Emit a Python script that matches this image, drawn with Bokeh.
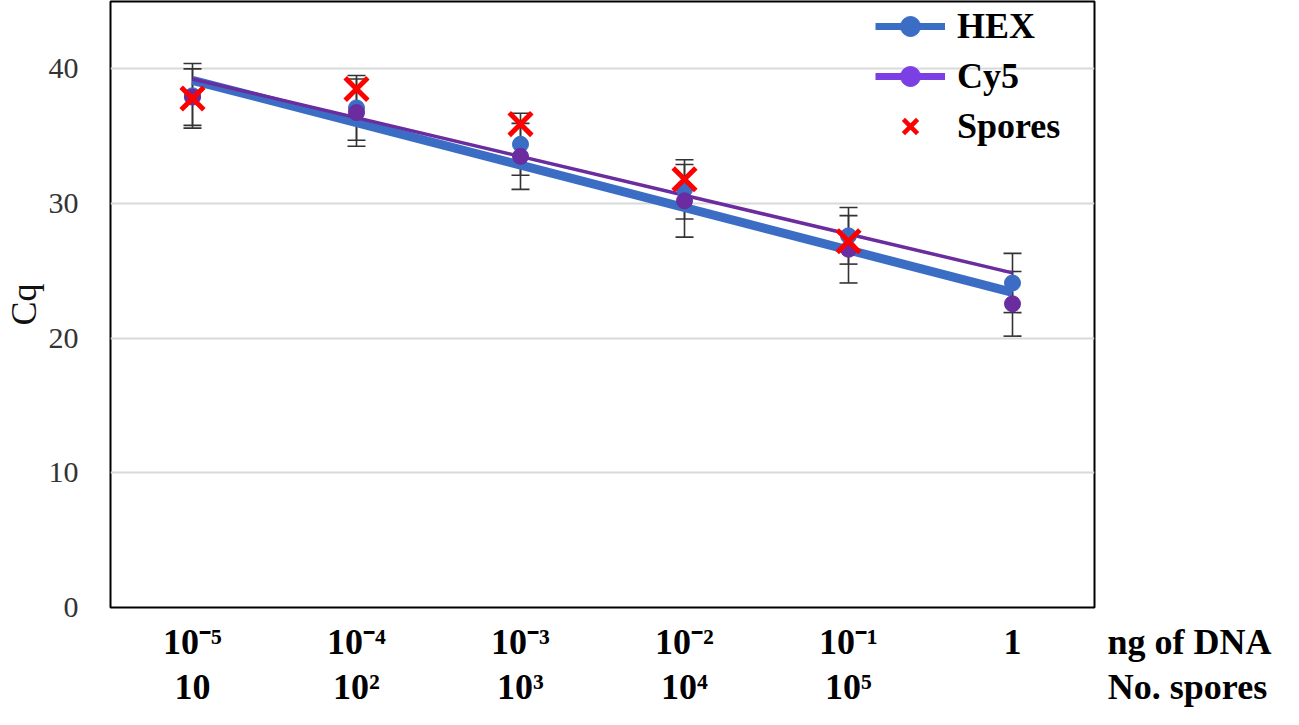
from bokeh.plotting import figure
from bokeh.layouts import row
from bokeh.models import (Range1d, FixedTicker, LinearAxis, Whisker, ColumnDataSource,
                          Legend, LegendItem, TeeHead)
from bokeh.embed import file_html
from bokeh.resources import INLINE

# ---- data ----
x_pos = [0, 1, 2, 3, 4, 5]
dna_labels = ["10\u207b\u2075", "10\u207b\u2074", "10\u207b\u00b3", "10\u207b\u00b2", "10\u207b\u00b9", "1"]
spore_labels = ["10", "10\u00b2", "10\u00b3", "10\u2074", "10\u2075", ""]
row_titles = ["ng of DNA", "No. spores"]
y_ticks = [0, 10, 20, 30, 40]

hex_cq = [38.0, 37.1, 34.4, 31.05, 27.6, 24.1]
hex_err = [2.4, 2.4, 2.3, 2.2, 2.1, 2.2]
cy5_cq = [37.9, 36.75, 33.5, 30.2, 26.6, 22.55]
cy5_err = [2.1, 2.5, 2.45, 2.7, 2.5, 2.4]
spore_x = [0, 1, 2, 3, 4]
spore_cq = [37.8, 38.5, 35.9, 31.8, 27.2]
trend_x = [0, 5]
hex_trend = [39.15, 23.4]
cy5_trend = [39.25, 24.85]

HEX_C = "#3C6DC5"
CY5_C = "#6A2C9E"
CY5_LEG = "#7B3FE4"
SERIF = "Liberation Serif"
H = 709
SIDE_W = 185
S1, S2 = 8, -4

p = figure(width=1098, height=H, output_backend="svg", toolbar_location=None,
           x_range=Range1d(-0.5, 5.5), y_range=Range1d(0, 45),
           min_border_left=96, min_border_right=4, min_border_top=1, min_border_bottom=100)
p.background_fill_color = "white"
p.outline_line_color = "black"
p.outline_line_width = 2

p.xgrid.grid_line_color = None
p.ygrid.grid_line_color = "#D9D9D9"
p.ygrid.grid_line_width = 2

p.yaxis.ticker = FixedTicker(ticks=y_ticks)
p.yaxis.axis_line_color = None
p.yaxis.major_tick_line_color = None
p.yaxis.minor_tick_line_color = None
p.yaxis.major_label_standoff = 26
p.yaxis.major_label_text_font = SERIF
p.yaxis.major_label_text_font_size = "30px"
p.yaxis.major_label_text_color = "#333333"
p.yaxis.axis_label = "Cq"
p.yaxis.axis_label_text_font = SERIF
p.yaxis.axis_label_text_font_style = "normal"
p.yaxis.axis_label_text_font_size = "36px"
p.yaxis.axis_label_text_color = "#111111"
p.yaxis.axis_label_standoff = 2

def style_x(ax, ticks, labels, standoff):
    ax.ticker = FixedTicker(ticks=ticks)
    ax.major_label_overrides = {x: l for x, l in zip(ticks, labels)}
    ax.axis_line_color = None
    ax.major_tick_line_color = None
    ax.minor_tick_line_color = None
    ax.major_label_standoff = standoff
    ax.major_label_text_font = SERIF
    ax.major_label_text_font_style = "bold"
    ax.major_label_text_font_size = "36px"
    ax.major_label_text_color = "black"

style_x(p.xaxis[0], x_pos, dna_labels, S1)
ax2 = LinearAxis()
style_x(ax2, x_pos, spore_labels, S2)
p.add_layout(ax2, "below")

# trend lines
p.line(trend_x, hex_trend, line_color=HEX_C, line_width=9)
p.line(trend_x, cy5_trend, line_color=CY5_C, line_width=3.5)

# error bars
for cq, err in ((hex_cq, hex_err), (cy5_cq, cy5_err)):
    src = ColumnDataSource(dict(x=x_pos,
                                upper=[c + e for c, e in zip(cq, err)],
                                lower=[c - e for c, e in zip(cq, err)]))
    w = Whisker(base="x", upper="upper", lower="lower", source=src,
                line_color="#333333", line_width=1.6,
                upper_head=TeeHead(size=18, line_color="#333333", line_width=1.6),
                lower_head=TeeHead(size=18, line_color="#333333", line_width=1.6))
    p.add_layout(w)

# markers
p.scatter(x_pos, hex_cq, size=16, fill_color=HEX_C, line_color=HEX_C)
p.scatter(x_pos, cy5_cq, size=16, fill_color=CY5_C, line_color=CY5_C)
p.scatter(spore_x, spore_cq, marker="x", size=32, line_color="#FF0000", line_width=5)

# legend-only renderers (their points lie outside the visible ranges)
off_x = [-10, -9]
off_y = [-10, -10]
lg_hex_l = p.line(off_x, off_y, line_color=HEX_C, line_width=7)
lg_hex_m = p.scatter(off_x, off_y, size=18, fill_color=HEX_C, line_color=HEX_C)
lg_cy5_l = p.line(off_x, off_y, line_color=CY5_LEG, line_width=7)
lg_cy5_m = p.scatter(off_x, off_y, size=18, fill_color=CY5_LEG, line_color=CY5_LEG)
lg_sp = p.scatter(off_x, off_y, marker="x", size=30, line_color="#FF0000", line_width=4.5)

legend = Legend(items=[LegendItem(label="HEX", renderers=[lg_hex_l, lg_hex_m]),
                       LegendItem(label="Cy5", renderers=[lg_cy5_l, lg_cy5_m]),
                       LegendItem(label="Spores", renderers=[lg_sp])],
                location="top_right", margin=0, padding=0, spacing=0,
                glyph_width=70, glyph_height=50, label_height=50, label_width=137,
                label_standoff=12,
                label_text_font=SERIF, label_text_font_style="bold",
                label_text_font_size="36px", label_text_color="black",
                border_line_color=None, background_fill_alpha=0)
p.add_layout(legend, "center")

# right-hand strip: row titles drawn as tick labels of two axes
side = figure(width=SIDE_W, height=H, output_backend="svg", toolbar_location=None,
              x_range=Range1d(0, SIDE_W), y_range=Range1d(0, 45),
              x_axis_type=None, y_axis_type=None,
              min_border_left=0, min_border_right=0, min_border_top=1, min_border_bottom=100)
side.outline_line_color = None
side.xgrid.grid_line_color = None
side.ygrid.grid_line_color = None
sa1 = LinearAxis()
style_x(sa1, [91], [row_titles[0]], S1)
sa2 = LinearAxis()
style_x(sa2, [89], [row_titles[1]], S2)
side.add_layout(sa1, "below")
side.add_layout(sa2, "below")

layout = row(p, side)
open("out.html", "w").write(file_html(layout, INLINE))
